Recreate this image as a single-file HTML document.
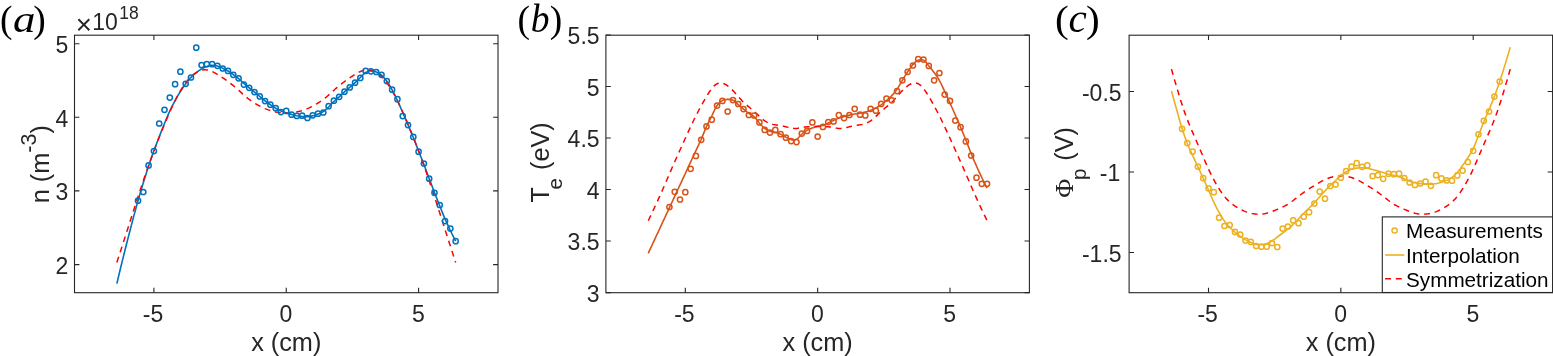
<!DOCTYPE html>
<html lang="en"><head><meta charset="utf-8"><title>Plasma profiles</title>
<style>html,body{margin:0;padding:0;background:#fff;}svg{display:block;}</style></head><body>
<svg width="1553" height="356" viewBox="0 0 1553 356">
<rect width="1553" height="356" fill="#ffffff"/>
<g>
<path d="M116.85,283.6L118.17,278.03L119.5,272.51L120.82,267.05L122.14,261.63L123.47,256.27L124.79,250.96L126.11,245.7L127.44,240.5L128.76,235.34L130.08,230.2L131.41,225.1L132.73,220.06L134.05,215.09L135.38,210.19L136.7,205.39L138.02,200.7L139.35,196.1L140.67,191.57L142,187.12L143.32,182.74L144.64,178.43L145.97,174.21L147.29,170.06L148.61,166L149.94,162.04L151.26,158.2L152.58,154.46L153.91,150.8L155.23,147.21L156.55,143.68L157.88,140.21L159.2,136.78L160.52,133.4L161.85,130.06L163.17,126.76L164.49,123.5L165.82,120.24L167.14,117.02L168.46,113.91L169.79,111L171.11,108.27L172.43,105.63L173.76,103.07L175.08,100.6L176.4,98.21L177.73,95.89L179.05,93.66L180.38,91.5L181.7,89.43L183.02,87.46L184.35,85.59L185.67,83.8L186.99,82.06L188.32,80.38L189.64,78.8L190.96,77.4L192.29,76.13L193.61,74.91L194.93,73.76L196.26,72.66L197.58,71.64L198.9,70.68L200.23,69.8L201.55,69L202.87,68.26L204.2,67.58L205.52,66.99L206.84,66.5L208.17,66.06L209.49,65.64L210.81,65.32L212.14,65.2L213.46,65.27L214.78,65.45L216.11,65.71L217.43,66L218.75,66.41L220.08,66.99L221.4,67.65L222.72,68.3L224.05,68.93L225.37,69.57L226.7,70.26L228.02,71L229.34,71.82L230.67,72.71L231.99,73.65L233.31,74.6L234.64,75.55L235.96,76.53L237.28,77.54L238.61,78.6L239.93,79.75L241.25,80.97L242.58,82.21L243.9,83.4L245.22,84.53L246.55,85.63L247.87,86.72L249.19,87.8L250.52,88.88L251.84,89.95L253.16,91.02L254.49,92.1L255.81,93.2L257.13,94.3L258.46,95.4L259.78,96.5L261.1,97.59L262.43,98.68L263.75,99.76L265.07,100.8L266.4,101.81L267.72,102.8L269.05,103.76L270.37,104.7L271.69,105.62L273.02,106.52L274.34,107.39L275.66,108.2L276.99,108.97L278.31,109.7L279.63,110.38L280.96,111L282.28,111.56L283.6,112.07L284.93,112.55L286.25,113L287.57,113.44L288.9,113.85L290.22,114.24L291.54,114.6L292.87,114.94L294.19,115.26L295.51,115.55L296.84,115.8L298.16,116.01L299.48,116.21L300.81,116.37L302.13,116.5L303.45,116.61L304.78,116.7L306.1,116.77L307.43,116.8L308.75,116.7L310.07,116.46L311.4,116.14L312.72,115.8L314.04,115.44L315.37,115L316.69,114.52L318.01,114L319.34,113.47L320.66,112.89L321.98,112.24L323.31,111.5L324.63,110.58L325.95,109.47L327.28,108.25L328.6,107L329.92,105.68L331.25,104.26L332.57,102.84L333.89,101.5L335.22,100.28L336.54,99.12L337.86,97.98L339.19,96.8L340.51,95.56L341.83,94.29L343.16,93.02L344.48,91.8L345.8,90.65L347.13,89.53L348.45,88.43L349.78,87.3L351.1,86.15L352.42,84.99L353.75,83.81L355.07,82.6L356.39,81.35L357.72,80.07L359.04,78.78L360.36,77.5L361.69,76.13L363.01,74.69L364.33,73.4L365.66,72.5L366.98,71.88L368.3,71.33L369.63,70.95L370.95,70.8L372.27,70.91L373.6,71.18L374.92,71.57L376.24,72L377.57,72.55L378.89,73.29L380.21,74.19L381.54,75.2L382.86,76.41L384.18,77.89L385.51,79.54L386.83,81.3L388.15,83.18L389.48,85.25L390.8,87.47L392.12,89.8L393.45,92.27L394.77,94.92L396.1,97.68L397.42,100.5L398.74,103.4L400.07,106.4L401.39,109.45L402.71,112.5L404.04,115.54L405.36,118.61L406.68,121.69L408.01,124.8L409.33,127.93L410.65,131.08L411.98,134.26L413.3,137.5L414.62,140.82L415.95,144.2L417.27,147.61L418.59,151L419.92,154.36L421.24,157.72L422.56,161.09L423.89,164.5L425.21,167.96L426.53,171.47L427.86,174.99L429.18,178.5L430.5,182.01L431.83,185.53L433.15,189.04L434.48,192.5L435.8,195.92L437.12,199.31L438.45,202.67L439.77,206L441.09,209.32L442.42,212.63L443.74,215.87L445.06,219L446.39,221.99L447.71,224.89L449.03,227.72L450.36,230.5L451.68,233.25L453,235.95L454.33,238.6L455.65,241.2" fill="none" stroke="#0072bd" stroke-width="1.6" stroke-linejoin="round"/>
<path d="M116.85,262.4L118.17,258.32L119.5,254.23L120.82,250.15L122.14,246.07L123.47,241.99L124.79,237.89L126.11,233.79L127.44,229.67L128.76,225.54L130.08,221.39L131.41,217.23L132.73,213.09L134.05,208.95L135.38,204.83L136.7,200.74L138.02,196.68L139.35,192.64L140.67,188.63L142,184.66L143.32,180.72L144.64,176.83L145.97,172.98L147.29,169.18L148.61,165.43L149.94,161.74L151.26,158.11L152.58,154.53L153.91,150.99L155.23,147.5L156.55,144.05L157.88,140.64L159.2,137.28L160.52,133.95L161.85,130.67L163.17,127.44L164.49,124.24L165.82,121.08L167.14,117.98L168.46,114.94L169.79,111.96L171.11,109.05L172.43,106.21L173.76,103.45L175.08,100.77L176.4,98.18L177.73,95.67L179.05,93.26L180.38,90.96L181.7,88.76L183.02,86.67L184.35,84.7L185.67,82.85L186.99,81.12L188.32,79.51L189.64,78.04L190.96,76.7L192.29,75.49L193.61,74.41L194.93,73.45L196.26,72.6L197.58,71.85L198.9,71.21L200.23,70.68L201.55,70.27L202.87,69.97L204.2,69.81L205.52,69.79L206.84,69.89L208.17,70.13L209.49,70.49L210.81,70.96L212.14,71.53L213.46,72.17L214.78,72.87L216.11,73.61L217.43,74.39L218.75,75.21L220.08,76.05L221.4,76.92L222.72,77.8L224.05,78.7L225.37,79.62L226.7,80.56L228.02,81.53L229.34,82.53L230.67,83.57L231.99,84.62L233.31,85.7L234.64,86.79L235.96,87.9L237.28,89.04L238.61,90.21L239.93,91.41L241.25,92.63L242.58,93.86L243.9,95.07L245.22,96.25L246.55,97.38L247.87,98.45L249.19,99.46L250.52,100.41L251.84,101.31L253.16,102.18L254.49,103.01L255.81,103.81L257.13,104.59L258.46,105.35L259.78,106.08L261.1,106.78L262.43,107.45L263.75,108.07L265.07,108.64L266.4,109.17L267.72,109.66L269.05,110.11L270.37,110.53L271.69,110.92L273.02,111.28L274.34,111.6L275.66,111.9L276.99,112.15L278.31,112.37L279.63,112.55L280.96,112.7L282.28,112.8L283.6,112.88L284.93,112.92L286.25,112.94L287.57,112.92L288.9,112.88L290.22,112.8L291.54,112.7L292.87,112.55L294.19,112.37L295.51,112.15L296.84,111.9L298.16,111.6L299.48,111.28L300.81,110.92L302.13,110.53L303.45,110.11L304.78,109.66L306.1,109.17L307.43,108.64L308.75,108.07L310.07,107.45L311.4,106.78L312.72,106.08L314.04,105.35L315.37,104.59L316.69,103.81L318.01,103.01L319.34,102.18L320.66,101.31L321.98,100.41L323.31,99.46L324.63,98.45L325.95,97.38L327.28,96.25L328.6,95.07L329.92,93.86L331.25,92.63L332.57,91.41L333.89,90.21L335.22,89.04L336.54,87.9L337.86,86.79L339.19,85.7L340.51,84.62L341.83,83.57L343.16,82.53L344.48,81.53L345.8,80.56L347.13,79.62L348.45,78.7L349.78,77.8L351.1,76.92L352.42,76.05L353.75,75.21L355.07,74.39L356.39,73.61L357.72,72.87L359.04,72.17L360.36,71.53L361.69,70.96L363.01,70.49L364.33,70.13L365.66,69.89L366.98,69.79L368.3,69.81L369.63,69.97L370.95,70.27L372.27,70.68L373.6,71.21L374.92,71.85L376.24,72.6L377.57,73.45L378.89,74.41L380.21,75.49L381.54,76.7L382.86,78.04L384.18,79.51L385.51,81.12L386.83,82.85L388.15,84.7L389.48,86.67L390.8,88.76L392.12,90.96L393.45,93.26L394.77,95.67L396.1,98.18L397.42,100.77L398.74,103.45L400.07,106.21L401.39,109.05L402.71,111.96L404.04,114.94L405.36,117.98L406.68,121.08L408.01,124.24L409.33,127.44L410.65,130.67L411.98,133.95L413.3,137.28L414.62,140.64L415.95,144.05L417.27,147.5L418.59,150.99L419.92,154.53L421.24,158.11L422.56,161.74L423.89,165.43L425.21,169.18L426.53,172.98L427.86,176.83L429.18,180.72L430.5,184.66L431.83,188.63L433.15,192.64L434.48,196.68L435.8,200.74L437.12,204.83L438.45,208.95L439.77,213.09L441.09,217.23L442.42,221.39L443.74,225.54L445.06,229.67L446.39,233.79L447.71,237.89L449.03,241.99L450.36,246.07L451.68,250.15L453,254.23L454.33,258.32L455.65,262.4" fill="none" stroke="#ff0000" stroke-width="1.5" stroke-dasharray="5.9 4.8"/>
<g fill="none" stroke="#0072bd" stroke-width="1.5">
<circle cx="138.03" cy="200.7" r="2.6"/>
<circle cx="143.32" cy="192" r="2.6"/>
<circle cx="148.61" cy="165.4" r="2.6"/>
<circle cx="153.91" cy="151.1" r="2.6"/>
<circle cx="159.2" cy="123.5" r="2.6"/>
<circle cx="164.49" cy="109.8" r="2.6"/>
<circle cx="169.79" cy="97.6" r="2.6"/>
<circle cx="175.08" cy="84.2" r="2.6"/>
<circle cx="180.38" cy="71.7" r="2.6"/>
<circle cx="185.67" cy="83.8" r="2.6"/>
<circle cx="190.96" cy="77.5" r="2.6"/>
<circle cx="196.26" cy="47.7" r="2.6"/>
<circle cx="201.55" cy="65" r="2.6"/>
<circle cx="206.84" cy="64.2" r="2.6"/>
<circle cx="212.14" cy="64.2" r="2.6"/>
<circle cx="217.43" cy="65.8" r="2.6"/>
<circle cx="222.72" cy="68.5" r="2.6"/>
<circle cx="228.02" cy="70.9" r="2.6"/>
<circle cx="233.31" cy="74.8" r="2.6"/>
<circle cx="238.61" cy="78.3" r="2.6"/>
<circle cx="243.9" cy="84.6" r="2.6"/>
<circle cx="249.19" cy="87.8" r="2.6"/>
<circle cx="254.49" cy="92.1" r="2.6"/>
<circle cx="259.78" cy="96.4" r="2.6"/>
<circle cx="265.07" cy="101.1" r="2.6"/>
<circle cx="270.37" cy="104.7" r="2.6"/>
<circle cx="275.66" cy="108.2" r="2.6"/>
<circle cx="280.96" cy="112.1" r="2.6"/>
<circle cx="286.25" cy="110.9" r="2.6"/>
<circle cx="291.54" cy="114.7" r="2.6"/>
<circle cx="296.84" cy="115.9" r="2.6"/>
<circle cx="302.13" cy="115.7" r="2.6"/>
<circle cx="307.43" cy="118" r="2.6"/>
<circle cx="312.72" cy="115.3" r="2.6"/>
<circle cx="318.01" cy="113.7" r="2.6"/>
<circle cx="323.31" cy="112.5" r="2.6"/>
<circle cx="328.6" cy="106.2" r="2.6"/>
<circle cx="333.89" cy="100.7" r="2.6"/>
<circle cx="339.19" cy="96.8" r="2.6"/>
<circle cx="344.48" cy="91.7" r="2.6"/>
<circle cx="349.77" cy="87.4" r="2.6"/>
<circle cx="355.07" cy="82.7" r="2.6"/>
<circle cx="360.36" cy="77.9" r="2.6"/>
<circle cx="365.66" cy="70.9" r="2.6"/>
<circle cx="370.95" cy="71.3" r="2.6"/>
<circle cx="376.24" cy="72" r="2.6"/>
<circle cx="381.54" cy="74.8" r="2.6"/>
<circle cx="386.83" cy="81.1" r="2.6"/>
<circle cx="392.12" cy="89.7" r="2.6"/>
<circle cx="397.42" cy="99.2" r="2.6"/>
<circle cx="402.71" cy="116.1" r="2.6"/>
<circle cx="408.01" cy="125.1" r="2.6"/>
<circle cx="413.3" cy="136.9" r="2.6"/>
<circle cx="418.59" cy="151.7" r="2.6"/>
<circle cx="423.89" cy="163.5" r="2.6"/>
<circle cx="429.18" cy="178.7" r="2.6"/>
<circle cx="434.48" cy="192.8" r="2.6"/>
<circle cx="439.77" cy="205" r="2.6"/>
<circle cx="445.06" cy="221.1" r="2.6"/>
<circle cx="450.36" cy="228.6" r="2.6"/>
<circle cx="455.65" cy="241.2" r="2.6"/>
</g>
<g stroke="#262626" stroke-width="1.1" fill="none">
<rect x="74.5" y="35.2" width="423.5" height="257.5"/>
<path d="M153.91,292.7v-4.9M153.91,35.2v4.9M286.25,292.7v-4.9M286.25,35.2v4.9M418.59,292.7v-4.9M418.59,35.2v4.9M74.5,43.7h4.9M498,43.7h-4.9M74.5,117.3h4.9M498,117.3h-4.9M74.5,190.9h4.9M498,190.9h-4.9M74.5,264.6h4.9M498,264.6h-4.9"/>
</g>
<g font-family="'Liberation Sans', Arial, Helvetica, sans-serif" font-size="23" fill="#262626">
<text x="153.01" y="321.7" text-anchor="middle">-5</text>
<text x="285.95" y="321.7" text-anchor="middle">0</text>
<text x="418.29" y="321.7" text-anchor="middle">5</text>
<text x="68.2" y="53" text-anchor="end">5</text>
<text x="68.2" y="126.6" text-anchor="end">4</text>
<text x="68.2" y="200.2" text-anchor="end">3</text>
<text x="68.2" y="273.9" text-anchor="end">2</text>
</g>
<text x="286.25" y="350.8" text-anchor="middle" font-family="'Liberation Sans', Arial, Helvetica, sans-serif" font-size="25.3" fill="#262626">x (cm)</text>
<text transform="translate(48.5,164.2) rotate(-90)" text-anchor="middle" font-family="'Liberation Sans', Arial, Helvetica, sans-serif" font-size="25.3" fill="#262626">n (m<tspan font-size="21.5" dy="-12.6">-3</tspan><tspan dy="12.6">)</tspan></text>
<g font-family="'Liberation Serif', 'Times New Roman', Times, serif" font-size="37.5" fill="#000">
<text transform="translate(0.1,32) scale(1,1)">(</text>
<text transform="translate(12.9,32) scale(1.2,1.04)" font-style="italic">a</text>
<text transform="translate(33.2,32) scale(1,1)">)</text>
</g>
</g>
<g font-family="'Liberation Sans', Arial, Helvetica, sans-serif" fill="#262626"><text x="75.8" y="34.4" font-size="27.7">×</text><text x="92.3" y="30.2" font-size="23">10</text><text x="119.2" y="18.5" font-size="17.5">18</text></g>
<g>
<path d="M648.25,253.3L649.57,250.45L650.9,247.6L652.22,244.75L653.54,241.9L654.87,239.05L656.19,236.2L657.51,233.35L658.84,230.5L660.16,227.65L661.48,224.8L662.81,221.95L664.13,219.1L665.45,216.25L666.78,213.4L668.1,210.55L669.42,207.7L670.75,204.85L672.07,202L673.4,199.15L674.72,196.3L676.04,193.45L677.37,190.6L678.69,187.75L680.01,184.9L681.34,182.05L682.66,179.2L683.98,176.35L685.31,173.5L686.63,170.65L687.95,167.8L689.28,164.95L690.6,162.1L691.92,159.25L693.25,156.4L694.57,153.55L695.89,150.7L697.22,147.88L698.54,145.08L699.86,142.24L701.19,139.3L702.51,136.17L703.83,132.89L705.16,129.65L706.48,126.6L707.8,123.81L709.13,121.17L710.45,118.6L711.77,116L713.1,113.19L714.42,110.27L715.75,107.59L717.07,105.5L718.39,103.89L719.72,102.47L721.04,101.34L722.36,100.6L723.69,100.11L725.01,99.69L726.33,99.41L727.66,99.3L728.98,99.37L730.3,99.56L731.63,99.85L732.95,100.2L734.27,100.89L735.6,102.03L736.92,103.36L738.24,104.6L739.57,105.72L740.89,106.86L742.21,107.99L743.54,109.1L744.86,110.22L746.18,111.33L747.51,112.41L748.83,113.4L750.15,114.24L751.48,114.97L752.8,115.74L754.12,116.7L755.45,118.06L756.77,119.78L758.1,121.59L759.42,123.2L760.74,124.62L762.07,125.99L763.39,127.24L764.71,128.3L766.04,129.22L767.36,130.07L768.68,130.78L770.01,131.3L771.33,131.63L772.65,131.88L773.98,132.11L775.3,132.4L776.62,132.77L777.95,133.19L779.27,133.67L780.59,134.2L781.92,134.86L783.24,135.65L784.56,136.46L785.89,137.2L787.21,137.89L788.53,138.56L789.86,139.16L791.18,139.6L792.5,139.93L793.83,140.1L795.15,139.84L796.48,139.3L797.8,138.39L799.12,137.01L800.45,135.51L801.77,134.2L803.09,133.11L804.42,132.07L805.74,131.12L807.06,130.3L808.39,129.6L809.71,128.97L811.03,128.41L812.36,127.9L813.68,127.43L815,127L816.33,126.62L817.65,126.3L818.97,126.06L820.3,125.87L821.62,125.67L822.94,125.4L824.27,124.96L825.59,124.34L826.91,123.66L828.24,123L829.56,122.38L830.88,121.75L832.21,121.12L833.53,120.5L834.85,119.87L836.18,119.23L837.5,118.63L838.82,118.1L840.15,117.65L841.47,117.25L842.8,116.87L844.12,116.5L845.44,116.13L846.77,115.77L848.09,115.42L849.41,115.1L850.74,114.8L852.06,114.51L853.38,114.24L854.71,114L856.03,113.79L857.35,113.6L858.68,113.42L860,113.2L861.32,112.94L862.65,112.66L863.97,112.34L865.29,112L866.62,111.63L867.94,111.22L869.26,110.77L870.59,110.3L871.91,109.79L873.23,109.24L874.56,108.64L875.88,108L877.2,107.3L878.53,106.52L879.85,105.69L881.17,104.8L882.5,103.83L883.82,102.76L885.15,101.64L886.47,100.5L887.79,99.35L889.12,98.18L890.44,96.94L891.76,95.6L893.09,94.15L894.41,92.59L895.73,90.91L897.06,89.1L898.38,87.08L899.7,84.85L901.03,82.54L902.35,80.3L903.67,78.12L905,75.94L906.32,73.82L907.64,71.8L908.97,69.83L910.29,67.91L911.61,66.13L912.94,64.6L914.26,63.23L915.58,61.94L916.91,60.88L918.23,60.2L919.55,59.79L920.88,59.6L922.2,59.78L923.52,60.2L924.85,61.07L926.17,62.52L927.5,64.24L928.82,65.9L930.14,67.43L931.47,69.01L932.79,70.65L934.11,72.4L935.44,74.24L936.76,76.19L938.08,78.26L939.41,80.5L940.73,83L942.05,85.76L943.38,88.64L944.7,91.5L946.02,94.33L947.35,97.19L948.67,100.08L949.99,103L951.32,105.96L952.64,108.96L953.96,111.97L955.29,115L956.61,118.02L957.93,121.05L959.26,124.1L960.58,127.2L961.9,130.34L963.23,133.52L964.55,136.74L965.88,140L967.2,143.35L968.52,146.77L969.85,150.18L971.17,153.5L972.49,156.72L973.82,159.88L975.14,162.97L976.46,166L977.79,168.96L979.11,171.87L980.43,174.71L981.76,177.5L983.08,180.23L984.4,182.91L985.73,185.53L987.05,188.1" fill="none" stroke="#d95319" stroke-width="1.6" stroke-linejoin="round"/>
<path d="M648.25,220.7L649.57,217.95L650.9,215.19L652.22,212.42L653.54,209.62L654.87,206.8L656.19,203.95L657.51,201.07L658.84,198.16L660.16,195.22L661.48,192.25L662.81,189.24L664.13,186.21L665.45,183.15L666.78,180.07L668.1,176.99L669.42,173.92L670.75,170.86L672.07,167.82L673.4,164.8L674.72,161.8L676.04,158.82L677.37,155.86L678.69,152.91L680.01,149.96L681.34,147.03L682.66,144.11L683.98,141.19L685.31,138.29L686.63,135.4L687.95,132.53L689.28,129.67L690.6,126.83L691.92,124.01L693.25,121.24L694.57,118.52L695.89,115.87L697.22,113.29L698.54,110.76L699.86,108.29L701.19,105.85L702.51,103.44L703.83,101.07L705.16,98.74L706.48,96.48L707.8,94.31L709.13,92.25L710.45,90.32L711.77,88.57L713.1,87L714.42,85.65L715.75,84.56L717.07,83.73L718.39,83.19L719.72,82.93L721.04,82.92L722.36,83.15L723.69,83.58L725.01,84.2L726.33,84.96L727.66,85.86L728.98,86.88L730.3,88.02L731.63,89.26L732.95,90.61L734.27,92.05L735.6,93.55L736.92,95.09L738.24,96.62L739.57,98.11L740.89,99.54L742.21,100.91L743.54,102.22L744.86,103.47L746.18,104.66L747.51,105.81L748.83,106.93L750.15,108.02L751.48,109.11L752.8,110.22L754.12,111.38L755.45,112.59L756.77,113.83L758.1,115.1L759.42,116.36L760.74,117.58L762.07,118.73L763.39,119.8L764.71,120.78L766.04,121.66L767.36,122.42L768.68,123.07L770.01,123.61L771.33,124.04L772.65,124.37L773.98,124.63L775.3,124.84L776.62,125.02L777.95,125.2L779.27,125.38L780.59,125.59L781.92,125.84L783.24,126.12L784.56,126.44L785.89,126.78L787.21,127.13L788.53,127.47L789.86,127.8L791.18,128.08L792.5,128.3L793.83,128.43L795.15,128.47L796.48,128.41L797.8,128.25L799.12,128.03L800.45,127.77L801.77,127.5L803.09,127.26L804.42,127.06L805.74,126.9L807.06,126.79L808.39,126.71L809.71,126.66L811.03,126.62L812.36,126.57L813.68,126.52L815,126.48L816.33,126.44L817.65,126.43L818.97,126.44L820.3,126.48L821.62,126.52L822.94,126.57L824.27,126.62L825.59,126.66L826.91,126.71L828.24,126.79L829.56,126.9L830.88,127.06L832.21,127.26L833.53,127.5L834.85,127.77L836.18,128.03L837.5,128.25L838.82,128.41L840.15,128.47L841.47,128.43L842.8,128.3L844.12,128.08L845.44,127.8L846.77,127.47L848.09,127.13L849.41,126.78L850.74,126.44L852.06,126.12L853.38,125.84L854.71,125.59L856.03,125.38L857.35,125.2L858.68,125.02L860,124.84L861.32,124.63L862.65,124.37L863.97,124.04L865.29,123.61L866.62,123.07L867.94,122.42L869.26,121.66L870.59,120.78L871.91,119.8L873.23,118.73L874.56,117.58L875.88,116.36L877.2,115.1L878.53,113.83L879.85,112.59L881.17,111.38L882.5,110.22L883.82,109.11L885.15,108.02L886.47,106.93L887.79,105.81L889.12,104.66L890.44,103.47L891.76,102.22L893.09,100.91L894.41,99.54L895.73,98.11L897.06,96.62L898.38,95.09L899.7,93.55L901.03,92.05L902.35,90.61L903.67,89.26L905,88.02L906.32,86.88L907.64,85.86L908.97,84.96L910.29,84.2L911.61,83.58L912.94,83.15L914.26,82.92L915.58,82.93L916.91,83.19L918.23,83.73L919.55,84.56L920.88,85.65L922.2,87L923.52,88.57L924.85,90.32L926.17,92.25L927.5,94.31L928.82,96.48L930.14,98.74L931.47,101.07L932.79,103.44L934.11,105.85L935.44,108.29L936.76,110.76L938.08,113.29L939.41,115.87L940.73,118.52L942.05,121.24L943.38,124.01L944.7,126.83L946.02,129.67L947.35,132.53L948.67,135.4L949.99,138.29L951.32,141.19L952.64,144.11L953.96,147.03L955.29,149.96L956.61,152.91L957.93,155.86L959.26,158.82L960.58,161.8L961.9,164.8L963.23,167.82L964.55,170.86L965.88,173.92L967.2,176.99L968.52,180.07L969.85,183.15L971.17,186.21L972.49,189.24L973.82,192.25L975.14,195.22L976.46,198.16L977.79,201.07L979.11,203.95L980.43,206.8L981.76,209.62L983.08,212.42L984.4,215.19L985.73,217.95L987.05,220.7" fill="none" stroke="#ff0000" stroke-width="1.5" stroke-dasharray="5.9 4.8"/>
<g fill="none" stroke="#d95319" stroke-width="1.5">
<circle cx="669.42" cy="207" r="2.6"/>
<circle cx="674.72" cy="191.8" r="2.6"/>
<circle cx="680.01" cy="199.5" r="2.6"/>
<circle cx="685.31" cy="192.2" r="2.6"/>
<circle cx="690.6" cy="168.8" r="2.6"/>
<circle cx="695.89" cy="155.9" r="2.6"/>
<circle cx="701.19" cy="139.8" r="2.6"/>
<circle cx="706.48" cy="126.4" r="2.6"/>
<circle cx="711.77" cy="119.7" r="2.6"/>
<circle cx="717.07" cy="105.6" r="2.6"/>
<circle cx="722.36" cy="100.9" r="2.6"/>
<circle cx="727.66" cy="111.5" r="2.6"/>
<circle cx="732.95" cy="100.1" r="2.6"/>
<circle cx="738.24" cy="104" r="2.6"/>
<circle cx="743.54" cy="109.1" r="2.6"/>
<circle cx="748.83" cy="115" r="2.6"/>
<circle cx="754.12" cy="115.5" r="2.6"/>
<circle cx="759.42" cy="122.4" r="2.6"/>
<circle cx="764.71" cy="129.9" r="2.6"/>
<circle cx="770.01" cy="132.6" r="2.6"/>
<circle cx="775.3" cy="129.9" r="2.6"/>
<circle cx="780.59" cy="134.2" r="2.6"/>
<circle cx="785.89" cy="137.7" r="2.6"/>
<circle cx="791.18" cy="141.1" r="2.6"/>
<circle cx="796.48" cy="142.1" r="2.6"/>
<circle cx="801.77" cy="133.6" r="2.6"/>
<circle cx="807.06" cy="130.9" r="2.6"/>
<circle cx="812.36" cy="122.4" r="2.6"/>
<circle cx="817.65" cy="136.6" r="2.6"/>
<circle cx="822.94" cy="126.9" r="2.6"/>
<circle cx="828.24" cy="122" r="2.6"/>
<circle cx="833.53" cy="121.4" r="2.6"/>
<circle cx="838.82" cy="115.1" r="2.6"/>
<circle cx="844.12" cy="118.1" r="2.6"/>
<circle cx="849.41" cy="115" r="2.6"/>
<circle cx="854.71" cy="108.8" r="2.6"/>
<circle cx="860" cy="114.7" r="2.6"/>
<circle cx="865.29" cy="115.4" r="2.6"/>
<circle cx="870.59" cy="108.8" r="2.6"/>
<circle cx="875.88" cy="110.7" r="2.6"/>
<circle cx="881.17" cy="103.9" r="2.6"/>
<circle cx="886.47" cy="98.5" r="2.6"/>
<circle cx="891.76" cy="100.3" r="2.6"/>
<circle cx="897.06" cy="91.1" r="2.6"/>
<circle cx="902.35" cy="80.3" r="2.6"/>
<circle cx="907.64" cy="71.8" r="2.6"/>
<circle cx="912.94" cy="65.5" r="2.6"/>
<circle cx="918.23" cy="59.1" r="2.6"/>
<circle cx="923.52" cy="59.6" r="2.6"/>
<circle cx="928.82" cy="65.9" r="2.6"/>
<circle cx="934.11" cy="80.3" r="2.6"/>
<circle cx="939.41" cy="73" r="2.6"/>
<circle cx="944.7" cy="94.6" r="2.6"/>
<circle cx="949.99" cy="100.9" r="2.6"/>
<circle cx="955.29" cy="120.6" r="2.6"/>
<circle cx="960.58" cy="127.2" r="2.6"/>
<circle cx="965.88" cy="141.4" r="2.6"/>
<circle cx="971.17" cy="155.5" r="2.6"/>
<circle cx="976.46" cy="177.7" r="2.6"/>
<circle cx="981.76" cy="183.8" r="2.6"/>
<circle cx="987.05" cy="183.8" r="2.6"/>
</g>
<g stroke="#262626" stroke-width="1.1" fill="none">
<rect x="605.9" y="35.2" width="423.5" height="257.5"/>
<path d="M685.31,292.7v-4.9M685.31,35.2v4.9M817.65,292.7v-4.9M817.65,35.2v4.9M949.99,292.7v-4.9M949.99,35.2v4.9M605.9,35h4.9M1029.4,35h-4.9M605.9,86.5h4.9M1029.4,86.5h-4.9M605.9,138h4.9M1029.4,138h-4.9M605.9,189.5h4.9M1029.4,189.5h-4.9M605.9,241h4.9M1029.4,241h-4.9M605.9,292.6h4.9M1029.4,292.6h-4.9"/>
</g>
<g font-family="'Liberation Sans', Arial, Helvetica, sans-serif" font-size="23" fill="#262626">
<text x="684.41" y="321.7" text-anchor="middle">-5</text>
<text x="817.35" y="321.7" text-anchor="middle">0</text>
<text x="949.69" y="321.7" text-anchor="middle">5</text>
<text x="599.6" y="44.3" text-anchor="end">5.5</text>
<text x="599.6" y="95.8" text-anchor="end">5</text>
<text x="599.6" y="147.3" text-anchor="end">4.5</text>
<text x="599.6" y="198.8" text-anchor="end">4</text>
<text x="599.6" y="250.3" text-anchor="end">3.5</text>
<text x="599.6" y="301.9" text-anchor="end">3</text>
</g>
<text x="817.65" y="350.8" text-anchor="middle" font-family="'Liberation Sans', Arial, Helvetica, sans-serif" font-size="25.3" fill="#262626">x (cm)</text>
<text transform="translate(549,162.3) rotate(-90)" text-anchor="middle" font-family="'Liberation Sans', Arial, Helvetica, sans-serif" font-size="25.3" fill="#262626">T<tspan font-size="20.5" dy="12.6" dx="-2.5">e</tspan><tspan dy="-12.6" dx="1"> (eV)</tspan></text>
<g font-family="'Liberation Serif', 'Times New Roman', Times, serif" font-size="37.5" fill="#000">
<text transform="translate(517.4,32) scale(1,1)">(</text>
<text transform="translate(530.7,32) scale(1,1.04)" font-style="italic">b</text>
<text transform="translate(549.7,32) scale(1,1)">)</text>
</g>
</g>
<g>
<path d="M1171.45,91L1172.77,95.8L1174.1,100.56L1175.42,105.3L1176.74,110L1178.07,114.75L1179.39,119.52L1180.71,124.16L1182.04,128.5L1183.36,132.55L1184.68,136.4L1186.01,140.06L1187.33,143.5L1188.65,146.7L1189.98,149.71L1191.3,152.61L1192.62,155.5L1193.95,158.37L1195.27,161.18L1196.6,163.98L1197.92,166.8L1199.24,169.66L1200.57,172.52L1201.89,175.41L1203.21,178.3L1204.54,181.2L1205.86,184.11L1207.18,187.04L1208.51,190L1209.83,193.07L1211.15,196.2L1212.48,199.29L1213.8,202.2L1215.12,204.92L1216.45,207.52L1217.77,210.01L1219.09,212.4L1220.42,214.72L1221.74,216.97L1223.06,219.08L1224.39,221L1225.71,222.73L1227.03,224.32L1228.36,225.8L1229.68,227.2L1231,228.52L1232.33,229.76L1233.65,230.95L1234.97,232.1L1236.3,233.24L1237.62,234.34L1238.95,235.4L1240.27,236.4L1241.59,237.35L1242.92,238.26L1244.24,239.11L1245.56,239.9L1246.89,240.62L1248.21,241.3L1249.53,241.92L1250.86,242.5L1252.18,243.07L1253.5,243.64L1254.83,244.11L1256.15,244.4L1257.47,244.56L1258.8,244.68L1260.12,244.77L1261.44,244.8L1262.77,244.68L1264.09,244.37L1265.41,243.95L1266.74,243.5L1268.06,243L1269.38,242.37L1270.71,241.66L1272.03,240.9L1273.35,240.04L1274.68,239.05L1276,238.02L1277.32,237L1278.65,236L1279.97,235L1281.3,234L1282.62,233L1283.94,232.04L1285.27,231.09L1286.59,230.13L1287.91,229.1L1289.24,227.99L1290.56,226.8L1291.88,225.57L1293.21,224.3L1294.53,222.98L1295.85,221.6L1297.18,220.2L1298.5,218.8L1299.82,217.4L1301.15,215.98L1302.47,214.57L1303.79,213.2L1305.12,211.88L1306.44,210.58L1307.76,209.3L1309.09,208L1310.41,206.7L1311.73,205.39L1313.06,204.07L1314.38,202.7L1315.7,201.27L1317.03,199.79L1318.35,198.29L1319.67,196.8L1321,195.32L1322.32,193.82L1323.65,192.35L1324.97,190.9L1326.29,189.48L1327.62,188.09L1328.94,186.72L1330.26,185.4L1331.59,184.14L1332.91,182.92L1334.23,181.72L1335.56,180.5L1336.88,179.22L1338.2,177.9L1339.53,176.63L1340.85,175.5L1342.17,174.52L1343.5,173.62L1344.82,172.78L1346.14,172L1347.47,171.23L1348.79,170.48L1350.11,169.81L1351.44,169.3L1352.76,168.9L1354.08,168.55L1355.41,168.28L1356.73,168.1L1358.05,167.99L1359.38,167.89L1360.7,167.82L1362.02,167.8L1363.35,167.84L1364.67,167.96L1366,168.12L1367.32,168.3L1368.64,168.54L1369.97,168.87L1371.29,169.24L1372.61,169.6L1373.94,169.94L1375.26,170.28L1376.58,170.63L1377.91,171L1379.23,171.38L1380.55,171.79L1381.88,172.2L1383.2,172.6L1384.52,173.01L1385.85,173.43L1387.17,173.83L1388.49,174.2L1389.82,174.52L1391.14,174.8L1392.46,175.09L1393.79,175.4L1395.11,175.74L1396.43,176.1L1397.76,176.49L1399.08,176.9L1400.4,177.35L1401.73,177.84L1403.05,178.36L1404.38,178.9L1405.7,179.5L1407.02,180.14L1408.35,180.77L1409.67,181.3L1410.99,181.75L1412.32,182.15L1413.64,182.51L1414.96,182.8L1416.29,183.04L1417.61,183.24L1418.93,183.43L1420.26,183.6L1421.58,183.79L1422.9,183.99L1424.23,184.14L1425.55,184.2L1426.87,184.2L1428.2,184.2L1429.52,184.2L1430.84,184.2L1432.17,184.15L1433.49,184L1434.81,183.81L1436.14,183.6L1437.46,183.34L1438.78,183L1440.11,182.61L1441.43,182.2L1442.75,181.79L1444.08,181.34L1445.4,180.85L1446.72,180.3L1448.05,179.68L1449.37,178.97L1450.7,178.18L1452.02,177.3L1453.34,176.28L1454.67,175.1L1455.99,173.8L1457.31,172.4L1458.64,170.86L1459.96,169.15L1461.28,167.34L1462.61,165.5L1463.93,163.64L1465.25,161.72L1466.58,159.74L1467.9,157.7L1469.22,155.64L1470.55,153.54L1471.87,151.3L1473.19,148.8L1474.52,145.85L1475.84,142.49L1477.16,138.96L1478.49,135.5L1479.81,132.11L1481.13,128.7L1482.46,125.31L1483.78,122L1485.1,118.82L1486.43,115.72L1487.75,112.64L1489.07,109.5L1490.4,106.33L1491.72,103.14L1493.05,99.89L1494.37,96.5L1495.69,92.96L1497.02,89.28L1498.34,85.49L1499.66,81.6L1500.99,77.6L1502.31,73.48L1503.63,69.27L1504.96,65L1506.28,60.67L1507.6,56.25L1508.93,51.76L1510.25,47.2" fill="none" stroke="#edb120" stroke-width="1.6" stroke-linejoin="round"/>
<path d="M1171.45,69.1L1172.77,73.71L1174.1,78.3L1175.42,82.86L1176.74,87.38L1178.07,91.83L1179.39,96.2L1180.71,100.46L1182.04,104.59L1183.36,108.57L1184.68,112.39L1186.01,116.05L1187.33,119.56L1188.65,122.92L1189.98,126.17L1191.3,129.32L1192.62,132.4L1193.95,135.44L1195.27,138.46L1196.6,141.49L1197.92,144.52L1199.24,147.59L1200.57,150.68L1201.89,153.8L1203.21,156.92L1204.54,160.03L1205.86,163.11L1207.18,166.12L1208.51,169.04L1209.83,171.87L1211.15,174.58L1212.48,177.18L1213.8,179.68L1215.12,182.08L1216.45,184.39L1217.77,186.62L1219.09,188.75L1220.42,190.8L1221.74,192.75L1223.06,194.59L1224.39,196.31L1225.71,197.91L1227.03,199.38L1228.36,200.73L1229.68,201.97L1231,203.11L1232.33,204.17L1233.65,205.15L1234.97,206.06L1236.3,206.91L1237.62,207.72L1238.95,208.48L1240.27,209.2L1241.59,209.87L1242.92,210.49L1244.24,211.07L1245.56,211.61L1246.89,212.09L1248.21,212.52L1249.53,212.91L1250.86,213.24L1252.18,213.54L1253.5,213.78L1254.83,213.97L1256.15,214.11L1257.47,214.19L1258.8,214.2L1260.12,214.16L1261.44,214.07L1262.77,213.92L1264.09,213.72L1265.41,213.47L1266.74,213.17L1268.06,212.82L1269.38,212.43L1270.71,211.99L1272.03,211.51L1273.35,211L1274.68,210.46L1276,209.9L1277.32,209.34L1278.65,208.77L1279.97,208.2L1281.3,207.61L1282.62,207.01L1283.94,206.38L1285.27,205.7L1286.59,204.98L1287.91,204.19L1289.24,203.35L1290.56,202.45L1291.88,201.49L1293.21,200.49L1294.53,199.46L1295.85,198.41L1297.18,197.35L1298.5,196.3L1299.82,195.27L1301.15,194.27L1302.47,193.29L1303.79,192.34L1305.12,191.43L1306.44,190.55L1307.76,189.68L1309.09,188.83L1310.41,187.99L1311.73,187.16L1313.06,186.34L1314.38,185.52L1315.7,184.71L1317.03,183.92L1318.35,183.14L1319.67,182.38L1321,181.64L1322.32,180.93L1323.65,180.26L1324.97,179.62L1326.29,179.02L1327.62,178.47L1328.94,177.98L1330.26,177.54L1331.59,177.15L1332.91,176.82L1334.23,176.54L1335.56,176.29L1336.88,176.08L1338.2,175.92L1339.53,175.81L1340.85,175.78L1342.17,175.81L1343.5,175.92L1344.82,176.08L1346.14,176.29L1347.47,176.54L1348.79,176.82L1350.11,177.15L1351.44,177.54L1352.76,177.98L1354.08,178.47L1355.41,179.02L1356.73,179.62L1358.05,180.26L1359.38,180.93L1360.7,181.64L1362.02,182.38L1363.35,183.14L1364.67,183.92L1366,184.71L1367.32,185.52L1368.64,186.34L1369.97,187.16L1371.29,187.99L1372.61,188.83L1373.94,189.68L1375.26,190.55L1376.58,191.43L1377.91,192.34L1379.23,193.29L1380.55,194.27L1381.88,195.27L1383.2,196.3L1384.52,197.35L1385.85,198.41L1387.17,199.46L1388.49,200.49L1389.82,201.49L1391.14,202.45L1392.46,203.35L1393.79,204.19L1395.11,204.98L1396.43,205.7L1397.76,206.38L1399.08,207.01L1400.4,207.61L1401.73,208.2L1403.05,208.77L1404.38,209.34L1405.7,209.9L1407.02,210.46L1408.35,211L1409.67,211.51L1410.99,211.99L1412.32,212.43L1413.64,212.82L1414.96,213.17L1416.29,213.47L1417.61,213.72L1418.93,213.92L1420.26,214.07L1421.58,214.16L1422.9,214.2L1424.23,214.19L1425.55,214.11L1426.87,213.97L1428.2,213.78L1429.52,213.54L1430.84,213.24L1432.17,212.91L1433.49,212.52L1434.81,212.09L1436.14,211.61L1437.46,211.07L1438.78,210.49L1440.11,209.87L1441.43,209.2L1442.75,208.48L1444.08,207.72L1445.4,206.91L1446.72,206.06L1448.05,205.15L1449.37,204.17L1450.7,203.11L1452.02,201.97L1453.34,200.73L1454.67,199.38L1455.99,197.91L1457.31,196.31L1458.64,194.59L1459.96,192.75L1461.28,190.8L1462.61,188.75L1463.93,186.62L1465.25,184.39L1466.58,182.08L1467.9,179.68L1469.22,177.18L1470.55,174.58L1471.87,171.87L1473.19,169.04L1474.52,166.12L1475.84,163.11L1477.16,160.03L1478.49,156.92L1479.81,153.8L1481.13,150.68L1482.46,147.59L1483.78,144.52L1485.1,141.49L1486.43,138.46L1487.75,135.44L1489.07,132.4L1490.4,129.32L1491.72,126.17L1493.05,122.92L1494.37,119.56L1495.69,116.05L1497.02,112.39L1498.34,108.57L1499.66,104.59L1500.99,100.46L1502.31,96.2L1503.63,91.83L1504.96,87.38L1506.28,82.86L1507.6,78.3L1508.93,73.71L1510.25,69.1" fill="none" stroke="#ff0000" stroke-width="1.5" stroke-dasharray="5.9 4.8"/>
<g fill="none" stroke="#edb120" stroke-width="1.5">
<circle cx="1182.04" cy="128.8" r="2.6"/>
<circle cx="1187.33" cy="143.1" r="2.6"/>
<circle cx="1192.62" cy="151.6" r="2.6"/>
<circle cx="1197.92" cy="166.6" r="2.6"/>
<circle cx="1203.21" cy="178.2" r="2.6"/>
<circle cx="1208.51" cy="188.3" r="2.6"/>
<circle cx="1213.8" cy="192.2" r="2.6"/>
<circle cx="1219.09" cy="217.7" r="2.6"/>
<circle cx="1224.39" cy="226" r="2.6"/>
<circle cx="1229.68" cy="225" r="2.6"/>
<circle cx="1234.97" cy="231.9" r="2.6"/>
<circle cx="1240.27" cy="234.6" r="2.6"/>
<circle cx="1245.56" cy="240.5" r="2.6"/>
<circle cx="1250.86" cy="241.9" r="2.6"/>
<circle cx="1256.15" cy="246" r="2.6"/>
<circle cx="1261.44" cy="246.7" r="2.6"/>
<circle cx="1266.74" cy="246.7" r="2.6"/>
<circle cx="1272.03" cy="243.1" r="2.6"/>
<circle cx="1277.32" cy="247" r="2.6"/>
<circle cx="1282.62" cy="228.6" r="2.6"/>
<circle cx="1287.91" cy="226.5" r="2.6"/>
<circle cx="1293.21" cy="220.4" r="2.6"/>
<circle cx="1298.5" cy="223.2" r="2.6"/>
<circle cx="1303.79" cy="216.7" r="2.6"/>
<circle cx="1309.09" cy="212.2" r="2.6"/>
<circle cx="1314.38" cy="203.5" r="2.6"/>
<circle cx="1319.67" cy="191.6" r="2.6"/>
<circle cx="1324.97" cy="198.7" r="2.6"/>
<circle cx="1330.26" cy="186" r="2.6"/>
<circle cx="1335.56" cy="184.5" r="2.6"/>
<circle cx="1340.85" cy="177.7" r="2.6"/>
<circle cx="1346.14" cy="171.2" r="2.6"/>
<circle cx="1351.44" cy="166.7" r="2.6"/>
<circle cx="1356.73" cy="163.2" r="2.6"/>
<circle cx="1362.02" cy="166.8" r="2.6"/>
<circle cx="1367.32" cy="165.4" r="2.6"/>
<circle cx="1372.61" cy="176.1" r="2.6"/>
<circle cx="1377.91" cy="175.1" r="2.6"/>
<circle cx="1383.2" cy="178.8" r="2.6"/>
<circle cx="1388.49" cy="173.7" r="2.6"/>
<circle cx="1393.79" cy="174.2" r="2.6"/>
<circle cx="1399.08" cy="173.7" r="2.6"/>
<circle cx="1404.38" cy="178" r="2.6"/>
<circle cx="1409.67" cy="182.5" r="2.6"/>
<circle cx="1414.96" cy="184.9" r="2.6"/>
<circle cx="1420.26" cy="183.5" r="2.6"/>
<circle cx="1425.55" cy="181.5" r="2.6"/>
<circle cx="1430.84" cy="185.8" r="2.6"/>
<circle cx="1436.14" cy="175.2" r="2.6"/>
<circle cx="1441.43" cy="178.4" r="2.6"/>
<circle cx="1446.72" cy="180.4" r="2.6"/>
<circle cx="1452.02" cy="180.7" r="2.6"/>
<circle cx="1457.31" cy="175.4" r="2.6"/>
<circle cx="1462.61" cy="170.6" r="2.6"/>
<circle cx="1467.9" cy="162" r="2.6"/>
<circle cx="1473.19" cy="150.8" r="2.6"/>
<circle cx="1478.49" cy="134.3" r="2.6"/>
<circle cx="1483.78" cy="120.8" r="2.6"/>
<circle cx="1489.07" cy="111.5" r="2.6"/>
<circle cx="1494.37" cy="96.6" r="2.6"/>
<circle cx="1499.66" cy="81.6" r="2.6"/>
</g>
<g stroke="#262626" stroke-width="1.1" fill="none">
<rect x="1129.1" y="35.2" width="423.5" height="257.5"/>
<path d="M1208.51,292.7v-4.9M1208.51,35.2v4.9M1340.85,292.7v-4.9M1340.85,35.2v4.9M1473.19,292.7v-4.9M1473.19,35.2v4.9M1129.1,91.5h4.9M1552.6,91.5h-4.9M1129.1,172h4.9M1552.6,172h-4.9M1129.1,252.5h4.9M1552.6,252.5h-4.9"/>
</g>
<g font-family="'Liberation Sans', Arial, Helvetica, sans-serif" font-size="23" fill="#262626">
<text x="1207.61" y="321.7" text-anchor="middle">-5</text>
<text x="1340.55" y="321.7" text-anchor="middle">0</text>
<text x="1472.89" y="321.7" text-anchor="middle">5</text>
<text x="1121.6" y="100.8" text-anchor="end">-0.5</text>
<text x="1120.3" y="181.3" text-anchor="end">-1</text>
<text x="1121.6" y="261.8" text-anchor="end">-1.5</text>
</g>
<text x="1340.85" y="350.8" text-anchor="middle" font-family="'Liberation Sans', Arial, Helvetica, sans-serif" font-size="25.3" fill="#262626">x (cm)</text>
<text transform="translate(1073.3,162.3) rotate(-90)" text-anchor="middle" font-family="'Liberation Sans', Arial, Helvetica, sans-serif" font-size="25.3" fill="#262626"><tspan font-family="'Liberation Serif', 'Times New Roman', Times, serif" font-size="26">Φ</tspan><tspan font-size="20.5" dy="12.6" dx="-1.5">p</tspan><tspan dy="-12.6" dx="1"> (V)</tspan></text>
<g font-family="'Liberation Serif', 'Times New Roman', Times, serif" font-size="37.5" fill="#000">
<text transform="translate(1055,32) scale(1.1,1)">(</text>
<text transform="translate(1068.4,32) scale(1.1,1.04)" font-style="italic">c</text>
<text transform="translate(1086,32) scale(1.1,1)">)</text>
</g>
</g>
<rect x="1382.3" y="216.9" width="170.3" height="75.6" fill="#ffffff" stroke="#262626" stroke-width="1.1"/>
<circle cx="1394.6" cy="230.5" r="2.6" fill="none" stroke="#edb120" stroke-width="1.45"/>
<path d="M1385.1,255H1404.3" stroke="#edb120" stroke-width="1.6" fill="none"/>
<path d="M1385.1,278.8H1403.3" stroke="#ff0000" stroke-width="1.5" stroke-dasharray="5.9 4.8" fill="none"/>
<g font-family="'Liberation Sans', Arial, Helvetica, sans-serif" font-size="20.7" fill="#000000">
<text x="1406" y="237.9">Measurements</text>
<text x="1406" y="262.7">Interpolation</text>
<text x="1406" y="287.1">Symmetrization</text>
</g>
</svg>
</body></html>
